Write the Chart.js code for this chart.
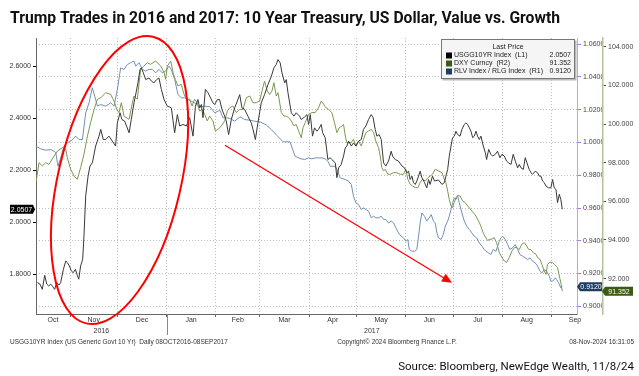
<!DOCTYPE html>
<html>
<head>
<meta charset="utf-8">
<script src="https://cdn.jsdelivr.net/npm/chart.js@4.4.1/dist/chart.umd.min.js"></script>
<style>
  html, body { margin: 0; padding: 0; background: #fff; }
  canvas { display: block; }
</style>
</head>
<body>
<canvas id="chart" width="639" height="376"></canvas>
<script>
// x values are day numbers counted from 1 Oct 2016 (= day 0)
const monthStarts = [0, 31, 61, 92, 123, 151, 182, 212, 243, 273, 304, 335, 365];
const monthNames = ["Oct", "Nov", "Dec", "Jan", "Feb", "Mar", "Apr", "May", "Jun", "Jul", "Aug", "Sep"];
const yearNames = ["2016", "2017"];
const yearStart = 92;
const leftTicks = [1.8, 2.0, 2.2, 2.4, 2.6];
const r1Ticks = [0.90, 0.92, 0.94, 0.96, 0.98, 1.00, 1.02, 1.04, 1.06];
const r2Ticks = [92, 94, 96, 98, 100, 102, 104];

// USGG10YR Index (L1)
const tsy = [
  [10.4,1.768],[12.0,1.762],[13.5,1.742],[15.0,1.796],[16.3,1.762],[17.5,1.755],[18.8,1.762],[20.0,1.753],
  [21.3,1.742],[22.6,1.768],[24.0,1.758],[25.1,1.768],[26.8,1.819],[28.3,1.851],[29.3,1.845],[30.6,1.832],
  [31.8,1.813],[33.1,1.806],[34.4,1.819],[35.6,1.796],[36.5,1.781],[37.7,1.832],[39.0,1.858],[39.8,1.947],
  [40.9,2.101],[42.4,2.178],[43.6,2.217],[45.1,2.229],[47.2,2.294],[49.3,2.332],[50.4,2.358],[52.0,2.319],
  [53.5,2.319],[55.6,2.332],[57.7,2.313],[59.8,2.294],[60.9,2.383],[62.6,2.422],[63.8,2.396],[65.5,2.390],
  [68.3,2.345],[69.7,2.396],[71.4,2.460],[72.7,2.499],[73.9,2.537],[75.2,2.588],[76.0,2.595],[77.3,2.576],
  [78.8,2.550],[80.9,2.556],[82.4,2.544],[84.0,2.537],[85.7,2.550],[87.2,2.556],[88.7,2.512],[90.4,2.473],
  [92.5,2.447],[93.7,2.445],[95.0,2.441],[97.1,2.345],[98.8,2.415],[100.3,2.371],[102.4,2.377],[104.5,2.371],
  [106.6,2.403],[108.7,2.332],[110.2,2.447],[111.8,2.473],[112.9,2.441],[114.0,2.454],[115.0,2.403],[116.5,2.512],
  [118.2,2.499],[119.8,2.479],[121.3,2.460],[122.4,2.454],[124.1,2.473],[125.5,2.473],[127.0,2.435],[128.7,2.409],
  [129.7,2.390],[131.2,2.338],[132.9,2.396],[135.0,2.441],[136.7,2.467],[138.2,2.492],[139.6,2.441],[141.3,2.435],
  [143.4,2.409],[145.5,2.383],[146.6,2.358],[148.1,2.319],[149.7,2.383],[151.8,2.460],[153.9,2.492],[156.1,2.531],
  [158.2,2.563],[159.8,2.595],[161.3,2.608],[162.4,2.627],[163.8,2.614],[164.9,2.576],[166.6,2.537],[167.6,2.550],
  [168.7,2.499],[170.8,2.422],[172.5,2.409],[173.9,2.422],[176.0,2.409],[177.1,2.396],[179.2,2.406],[180.7,2.415],
  [181.7,2.377],[182.8,2.415],[184.2,2.332],[185.5,2.364],[187.0,2.351],[188.0,2.358],[189.7,2.377],[190.6,2.345],
  [192.2,2.326],[193.9,2.242],[195.4,2.249],[196.4,2.242],[198.6,2.229],[199.6,2.172],[200.7,2.210],[202.3,2.223],
  [203.8,2.255],[204.9,2.287],[205.9,2.294],[207.0,2.313],[208.7,2.294],[210.1,2.306],[211.6,2.294],[213.3,2.313],
  [215.0,2.319],[216.4,2.358],[217.9,2.371],[219.6,2.396],[221.3,2.415],[222.5,2.403],[223.8,2.358],[224.9,2.332],
  [226.3,2.338],[227.6,2.319],[229.1,2.229],[230.5,2.217],[232.2,2.236],[233.9,2.274],[234.8,2.255],[236.4,2.242],
  [238.5,2.236],[240.7,2.217],[242.3,2.210],[243.8,2.191],[244.9,2.197],[245.9,2.165],[247.0,2.178],[248.0,2.153],
  [249.1,2.146],[250.1,2.159],[251.2,2.178],[252.2,2.197],[253.3,2.172],[255.0,2.153],[256.4,2.133],[257.5,2.165],
  [258.5,2.146],[260.0,2.178],[261.3,2.159],[263.8,2.163],[266.0,2.146],[267.5,2.153],[268.5,2.178],[269.6,2.204],
  [270.6,2.255],[271.7,2.294],[272.7,2.326],[273.8,2.332],[274.8,2.351],[275.9,2.338],[277.4,2.332],[278.6,2.358],
  [280.1,2.377],[281.1,2.383],[282.2,2.377],[283.3,2.364],[284.3,2.351],[285.4,2.326],[286.4,2.332],[287.5,2.351],
  [288.5,2.332],[289.6,2.319],[290.6,2.332],[292.1,2.294],[293.4,2.268],[294.2,2.242],[295.5,2.281],[296.9,2.262],
  [298.0,2.255],[299.7,2.262],[301.1,2.274],[302.6,2.249],[303.9,2.262],[305.4,2.255],[306.8,2.236],[308.1,2.229],
  [309.6,2.223],[311.0,2.262],[312.3,2.236],[313.8,2.210],[314.8,2.223],[315.9,2.210],[317.4,2.204],[318.6,2.249],
  [319.7,2.229],[321.1,2.204],[322.2,2.191],[323.2,2.185],[324.9,2.197],[326.4,2.191],[327.5,2.178],[328.5,2.178],
  [329.6,2.159],[330.6,2.153],[331.7,2.140],[333.3,2.133],[334.8,2.133],[335.9,2.165],[336.9,2.133],[338.0,2.127],
  [339.0,2.076],[340.1,2.108],[341.1,2.088],[342.0,2.0507]
];

// DXY Curncy (R2)
const dxy = [
  [9.5,96.97],[11.4,98.00],[13.5,97.83],[15.6,98.00],[17.7,97.91],[20.9,98.34],[23.0,98.60],[26.2,98.78],
  [28.3,98.69],[29.3,98.26],[31.4,97.66],[33.5,97.31],[35.6,97.14],[37.7,97.74],[39.8,98.43],[42.0,99.38],
  [44.0,100.07],[46.2,100.76],[48.3,101.28],[50.4,101.36],[53.5,101.62],[56.7,101.53],[58.8,101.19],[60.5,100.76],
  [61.9,100.59],[63.4,101.10],[65.1,100.41],[68.3,100.24],[70.4,101.10],[71.4,101.45],[73.5,101.28],[75.6,102.83],
  [77.7,103.00],[79.8,103.17],[81.9,103.09],[85.1,103.26],[88.3,103.00],[90.4,102.66],[91.4,102.31],[92.5,103.00],
  [94.6,103.26],[96.1,102.66],[97.5,102.31],[99.2,101.97],[101.3,102.05],[102.4,101.71],[103.4,101.45],[105.1,101.28],
  [106.6,101.28],[108.1,100.93],[109.7,101.28],[111.4,101.10],[112.9,100.67],[114.4,100.76],[116.1,100.50],[117.7,100.16],
  [119.2,100.41],[121.3,100.16],[122.8,99.64],[124.5,99.72],[126.6,99.90],[128.7,100.16],[130.4,100.67],[131.8,100.84],
  [133.9,100.93],[136.1,100.59],[138.2,100.76],[140.3,100.76],[142.4,101.36],[144.5,101.45],[146.6,101.10],[148.7,101.10],
  [150.8,101.19],[152.3,101.71],[153.9,102.22],[155.6,101.71],[157.1,101.53],[158.6,101.71],[159.8,102.14],[161.3,101.45],
  [162.4,101.62],[164.5,100.59],[166.2,100.41],[167.6,100.41],[169.1,100.33],[170.8,100.16],[172.5,99.90],[173.9,99.98],
  [175.4,99.64],[177.1,99.29],[178.2,99.81],[179.6,100.07],[181.7,100.50],[183.8,100.59],[185.9,100.59],[188.0,100.84],
  [189.7,101.19],[191.2,101.02],[192.7,100.84],[194.3,100.76],[196.4,100.59],[198.1,100.07],[199.6,99.55],[201.1,99.81],
  [202.8,99.90],[203.8,99.98],[204.9,99.38],[205.9,99.03],[208.7,99.03],[210.1,99.21],[211.6,98.86],[213.3,99.12],
  [215.0,98.86],[216.4,99.21],[217.9,99.55],[219.6,99.64],[221.3,99.72],[222.8,99.55],[224.2,99.12],[225.9,98.78],
  [227.0,98.34],[228.0,97.74],[229.1,97.57],[230.1,97.66],[231.8,97.40],[233.3,97.40],[235.4,97.48],[237.5,97.48],
  [239.6,97.40],[241.7,97.40],[243.2,97.66],[244.4,97.14],[245.9,96.88],[247.4,96.79],[249.1,96.71],[250.8,96.71],
  [252.2,96.97],[253.7,97.14],[255.4,97.05],[257.1,97.22],[258.5,97.31],[260.0,97.40],[261.7,97.66],[263.8,97.57],
  [266.0,97.48],[267.5,97.14],[268.5,96.97],[269.6,96.53],[270.6,96.10],[271.7,95.76],[272.7,95.67],[273.8,95.95],
  [274.8,96.19],[275.9,96.30],[277.4,96.28],[279.0,96.02],[280.7,95.93],[282.2,95.76],[283.3,95.66],[285.4,95.45],
  [287.0,95.30],[288.5,95.07],[289.6,94.90],[290.6,94.70],[292.1,94.35],[293.8,94.10],[294.8,93.98],[296.3,94.03],
  [297.6,94.05],[299.0,94.12],[300.5,93.86],[302.2,93.34],[303.9,93.09],[305.4,92.91],[306.8,92.83],[308.5,93.09],
  [310.2,93.43],[311.7,93.60],[313.1,93.62],[314.8,93.50],[316.5,93.78],[318.0,93.86],[319.5,93.69],[320.7,93.52],
  [322.2,93.50],[323.7,93.34],[325.4,93.26],[326.4,93.09],[327.9,93.00],[329.1,92.74],[330.6,92.40],[331.7,92.22],
  [332.7,92.74],[334.2,92.86],[335.9,92.83],[337.6,92.70],[339.0,92.57],[340.5,92.00],[341.3,91.71],[342.0,91.352]
];

// RLV Index / RLG Index (R1)
const rlv = [
  [9.5,0.9978],[12.5,0.9961],[15.6,0.9953],[18.8,0.9957],[20.9,0.9947],[22.0,0.9937],[23.4,0.9855],[25.1,0.9906],
  [27.2,0.9978],[29.3,0.9998],[31.4,1.0008],[34.6,1.0039],[36.7,1.0018],[38.8,1.0018],[40.9,1.0181],[43.0,1.0242],
  [45.1,1.0334],[46.6,1.0283],[48.3,1.0222],[50.4,1.0232],[53.5,1.0222],[56.7,1.0242],[58.8,1.0222],[60.9,1.0324],
  [63.0,1.0456],[65.1,1.0446],[67.2,1.0476],[69.3,1.0487],[71.4,1.0497],[72.5,1.0466],[74.6,1.0487],[76.7,1.0446],
  [78.8,1.0436],[80.9,1.0446],[83.0,1.0446],[85.1,1.0425],[87.2,1.0446],[89.3,1.0425],[91.4,1.0436],[93.5,1.0466],
  [95.0,1.0446],[97.1,1.0385],[99.2,1.0293],[101.3,1.0273],[103.4,1.0273],[105.5,1.0263],[107.6,1.0252],[109.7,1.0242],
  [111.8,1.0222],[113.9,1.0218],[116.1,1.0222],[119.4,1.0218],[122.4,1.0181],[125.7,1.0197],[127.6,1.0151],[129.7,1.0151],
  [132.1,1.0147],[135.0,1.0130],[138.4,1.0157],[141.3,1.0140],[144.7,1.0136],[147.6,1.0130],[151.0,1.0126],[155.2,1.0106],
  [158.2,1.0079],[161.5,1.0045],[165.7,1.0004],[170.0,1.0004],[173.1,0.9917],[176.3,0.9902],[179.2,0.9896],[181.7,0.9906],
  [183.8,0.9900],[185.9,0.9906],[188.0,0.9906],[190.1,0.9906],[192.2,0.9900],[193.9,0.9886],[195.4,0.9855],[198.6,0.9855],
  [200.2,0.9825],[201.7,0.9784],[204.9,0.9774],[207.0,0.9764],[208.7,0.9744],[210.1,0.9672],[211.6,0.9632],[213.3,0.9621],
  [215.0,0.9591],[216.4,0.9601],[217.9,0.9591],[219.6,0.9581],[221.3,0.9540],[222.8,0.9550],[224.2,0.9540],[225.9,0.9540],
  [227.6,0.9550],[229.1,0.9530],[230.5,0.9530],[232.2,0.9509],[233.9,0.9520],[235.4,0.9509],[236.9,0.9479],[238.5,0.9448],
  [240.2,0.9428],[241.7,0.9418],[243.2,0.9397],[244.4,0.9408],[245.3,0.9347],[247.0,0.9336],[248.6,0.9336],[250.1,0.9347],
  [251.2,0.9428],[252.2,0.9509],[253.3,0.9570],[255.0,0.9550],[256.4,0.9520],[257.9,0.9540],[259.2,0.9560],[260.6,0.9520],
  [261.7,0.9509],[262.8,0.9448],[263.8,0.9418],[265.4,0.9408],[266.8,0.9438],[268.1,0.9489],[269.6,0.9520],[270.6,0.9550],
  [271.7,0.9591],[272.7,0.9632],[273.8,0.9662],[274.8,0.9652],[275.9,0.9672],[276.9,0.9632],[278.6,0.9570],[280.1,0.9520],
  [281.6,0.9489],[283.3,0.9469],[284.9,0.9448],[286.4,0.9428],[287.9,0.9418],[289.6,0.9387],[291.2,0.9367],[292.7,0.9347],
  [293.8,0.9336],[295.5,0.9326],[296.9,0.9316],[298.4,0.9347],[300.1,0.9336],[301.8,0.9387],[303.2,0.9418],[304.3,0.9428],
  [306.0,0.9408],[307.5,0.9377],[308.9,0.9347],[310.6,0.9357],[312.3,0.9377],[313.8,0.9347],[315.2,0.9316],[316.9,0.9306],
  [318.6,0.9296],[320.1,0.9285],[321.6,0.9296],[323.2,0.9275],[324.9,0.9265],[326.4,0.9245],[327.9,0.9214],[329.1,0.9204],
  [330.6,0.9224],[332.1,0.9214],[333.8,0.9184],[334.8,0.9153],[335.9,0.9153],[337.6,0.9174],[338.4,0.9163],[339.7,0.9143],
  [341.1,0.9112],[342.0,0.9120]
];

const font = "'Liberation Sans', Arial, sans-serif";
const last = (arr) => arr[arr.length - 1][1];
const toXY = (arr) => arr.map(([x, y]) => ({ x, y }));
const setTicks = (list) => (scale) => {
  scale.ticks = list.filter((v) => v >= scale.min && v <= scale.max).map((value) => ({ value }));
};

const overlay = {
  id: "overlay",
  afterDraw(chart) {
    const { ctx, chartArea: area } = chart;
    const { x, yL, yR1, yR2 } = chart.scales;
    ctx.save();

    // title
    ctx.fillStyle = "#111";
    ctx.font = "bold 16px Roboto, " + font;
    ctx.textAlign = "left";
    ctx.textBaseline = "alphabetic";
    ctx.fillText("Trump Trades in 2016 and 2017: 10 Year Treasury, US Dollar, Value vs. Growth", 10, 23, 550);

    // month labels
    ctx.fillStyle = "#333";
    ctx.font = "7px " + font;
    ctx.textAlign = "center";
    ctx.textBaseline = "middle";
    monthNames.forEach((name, i) => {
      const mid = (Math.max(monthStarts[i], x.min) + monthStarts[i + 1]) / 2;
      ctx.fillText(name, x.getPixelForValue(mid), area.bottom + 6);
    });
    // year labels and divider
    ctx.fillText(yearNames[0], x.getPixelForValue((x.min + yearStart) / 2), area.bottom + 17);
    ctx.fillText(yearNames[1], x.getPixelForValue((yearStart + x.max) / 2), area.bottom + 17);
    const yx = Math.round(x.getPixelForValue(yearStart)) + 0.5;
    ctx.strokeStyle = "#888";
    ctx.lineWidth = 1;
    ctx.beginPath();
    ctx.moveTo(yx, area.bottom);
    ctx.lineTo(yx, area.bottom + 21);
    ctx.stroke();

    // footer
    ctx.font = "6.5px " + font;
    ctx.textAlign = "left";
    ctx.fillText("USGG10YR Index (US Generic Govt 10 Yr)  Daily 08OCT2016-08SEP2017", 10, 342);
    ctx.textAlign = "center";
    ctx.fillText("Copyright\u00A9 2024 Bloomberg Finance L.P.", 397, 342);
    ctx.textAlign = "right";
    ctx.fillText("08-Nov-2024 16:31:05", 634, 342);

    ctx.fillStyle = "#111";
    ctx.font = "11.5px Roboto, " + font;
    ctx.textBaseline = "alphabetic";
    ctx.fillText("Source: Bloomberg, NewEdge Wealth, 11/8/24", 634, 370);

    // last price tags
    ctx.font = "7px " + font;
    ctx.textAlign = "center";
    ctx.textBaseline = "middle";
    const tag = (text, x0, x1, yc, fill, point) => {
      ctx.fillStyle = fill;
      ctx.beginPath();
      ctx.moveTo(x0, yc - 4.5);
      ctx.lineTo(x1, yc - 4.5);
      if (point === "right") ctx.lineTo(x1 + 2, yc);
      ctx.lineTo(x1, yc + 4.5);
      ctx.lineTo(x0, yc + 4.5);
      if (point === "left") ctx.lineTo(x0 - 3, yc);
      ctx.closePath();
      ctx.fill();
      ctx.fillStyle = "#fff";
      ctx.fillText(text, (x0 + x1) / 2, yc + 0.5);
    };
    tag(last(tsy).toFixed(4), yL.left + 10, yL.right - 3, yL.getPixelForValue(last(tsy)), "#000", "right");
    tag(last(rlv).toFixed(4), yR1.left + 3, yR1.right - 1, yR1.getPixelForValue(last(rlv)), "#1d3d63", "left");
    tag(last(dxy).toFixed(3), yR2.left + 2, yR2.left + 30, yR2.getPixelForValue(last(dxy)), "#3b5a16", "left");

    // legend box
    const bx = area.right - 136, by = area.top + 1, bw = 134, bh = 40;
    ctx.fillStyle = "#bbb";
    ctx.fillRect(bx + 1.5, by + 1.5, bw, bh);
    ctx.fillStyle = "#f5f5f5";
    ctx.strokeStyle = "#777";
    ctx.fillRect(bx, by, bw, bh);
    ctx.strokeRect(bx + 0.5, by + 0.5, bw - 1, bh - 1);
    ctx.fillStyle = "#222";
    ctx.textAlign = "center";
    ctx.fillText("Last Price", bx + bw / 2, by + 8.5);
    const rows = [
      ["USGG10YR Index  (L1)", last(tsy).toFixed(4), "#000"],
      ["DXY Curncy  (R2)", last(dxy).toFixed(3), "#3b5a16"],
      ["RLV Index / RLG Index  (R1)", last(rlv).toFixed(4), "#1d3d63"]
    ];
    rows.forEach(([label, val, col], i) => {
      const ry = by + 16.5 + i * 8;
      ctx.fillStyle = col;
      ctx.fillRect(bx + 5, ry - 3, 6, 6);
      ctx.fillStyle = "#222";
      ctx.textAlign = "left";
      ctx.fillText(label, bx + 13, ry);
      ctx.textAlign = "right";
      ctx.fillText(val, bx + bw - 4, ry);
    });

    // red ellipse around the post-election move
    ctx.strokeStyle = "#ff0000";
    ctx.lineWidth = 2;
    ctx.beginPath();
    ctx.ellipse(x.getPixelForValue(62.3), yL.getPixelForValue(2.163), 61.4, 147.2, 0.229, 0, Math.PI * 2);
    ctx.stroke();

    // red arrow
    const ax0 = x.getPixelForValue(128.9), ay0 = yL.getPixelForValue(2.297);
    const ax1 = x.getPixelForValue(272.3), ay1 = yL.getPixelForValue(1.767);
    const ang = Math.atan2(ay1 - ay0, ax1 - ax0);
    ctx.lineWidth = 1.3;
    ctx.beginPath();
    ctx.moveTo(ax0, ay0);
    ctx.lineTo(ax1 - 7 * Math.cos(ang), ay1 - 7 * Math.sin(ang));
    ctx.stroke();
    ctx.fillStyle = "#ff0000";
    ctx.beginPath();
    ctx.moveTo(ax1, ay1);
    ctx.lineTo(ax1 - 10 * Math.cos(ang) + 4.5 * Math.sin(ang), ay1 - 10 * Math.sin(ang) - 4.5 * Math.cos(ang));
    ctx.lineTo(ax1 - 10 * Math.cos(ang) - 4.5 * Math.sin(ang), ay1 - 10 * Math.sin(ang) + 4.5 * Math.cos(ang));
    ctx.closePath();
    ctx.fill();

    ctx.restore();
  }
};

const line = (data, axis, color, width) => ({
  data: toXY(data),
  yAxisID: axis,
  borderColor: color,
  borderWidth: width,
  pointRadius: 0,
  tension: 0,
  fill: false
});

new Chart(document.getElementById("chart"), {
  type: "line",
  data: {
    datasets: [
      line(tsy, "yL", "#383838", 1),
      line(dxy, "yR2", "#7a9850", 1),
      line(rlv, "yR1", "#7190b5", 1)
    ]
  },
  options: {
    responsive: false,
    animation: false,
    events: [],
    layout: { padding: { top: 38, left: 0, right: 0, bottom: 0 } },
    plugins: { legend: { display: false }, tooltip: { enabled: false }, title: { display: false } },
    scales: {
      x: {
        type: "linear",
        min: 9.5,
        max: 351.3,
        afterBuildTicks: setTicks(monthStarts),
        afterFit: (s) => { s.height = 62; },
        ticks: { display: false, autoSkip: false },
        grid: { color: "#bdbdbd", tickColor: "#666", tickLength: 3 },
        border: { color: "#666", dash: [1, 2] }
      },
      yL: {
        position: "left",
        min: 1.647,
        max: 2.710,
        afterBuildTicks: setTicks(leftTicks),
        afterFit: (s) => { s.width = 36; },
        ticks: { color: "#333", padding: 2, font: { size: 7, family: font }, callback: (v) => v.toFixed(4) },
        grid: { drawOnChartArea: false, tickColor: "#000", tickLength: 3 },
        border: { color: "#666" }
      },
      yR1: {
        position: "right",
        weight: 0,
        min: 0.8953,
        max: 1.0638,
        afterBuildTicks: setTicks(r1Ticks),
        afterFit: (s) => { s.width = 26; },
        ticks: { color: "#444", padding: 2, font: { size: 7, family: font }, callback: (v) => v.toFixed(4) },
        grid: { color: "#bdbdbd", tickColor: "#b36bf5", tickLength: 4 },
        border: { color: "#cc99ff", width: 1, dash: [1, 2] }
      },
      yR2: {
        position: "right",
        weight: 1,
        min: 90.17,
        max: 104.45,
        afterBuildTicks: setTicks(r2Ticks),
        afterFit: (s) => { s.width = 36; },
        ticks: { color: "#444", padding: 2, font: { size: 7, family: font }, callback: (v) => v.toFixed(3) },
        grid: { drawOnChartArea: false, tickColor: "#3b5a16", tickLength: 3 },
        border: { color: "#b4c49c", width: 1.5 }
      }
    }
  },
  plugins: [overlay]
});
</script>
</body>
</html>
